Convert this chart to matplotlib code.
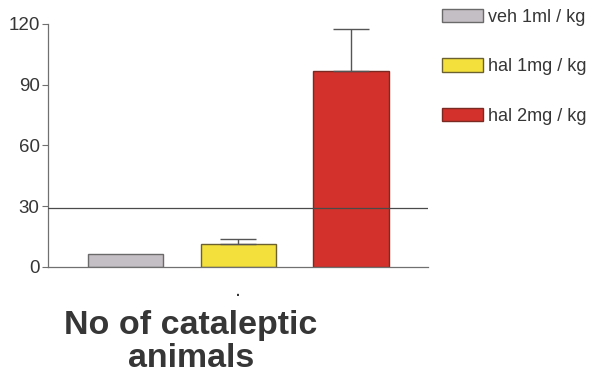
import matplotlib
matplotlib.use("Agg")
import matplotlib.pyplot as plt

plt.rcParams['font.family'] = ['Liberation Sans', 'DejaVu Sans']

groups = ["veh 1ml / kg", "hal 1mg / kg", "hal 2mg / kg"]
means = [6.5, 11.2, 97.0]
errors_up = [0.0, 2.8, 20.5]
reference_level = 29
y_ticks = [0, 30, 60, 90, 120]

fill_colors = ["#c4bfc4", "#f4e03c", "#d3312b"]
edge_colors = ["#6a6a6a", "#6a6030", "#7a2a22"]
text_color = "#363636"
axis_color = "#707070"

fig = plt.figure(figsize=(6.05, 3.78), dpi=100)
ax = fig.add_axes([0.0793, 0.2937, 0.628, 0.643])

xpos = list(range(len(groups)))
bars = ax.bar(xpos, means, width=0.67, color=fill_colors,
              edgecolor=edge_colors, linewidth=1.0, zorder=2)

# upward error bars only where an error is reported
err_idx = [i for i, e in enumerate(errors_up) if e > 0]
ax.errorbar([xpos[i] for i in err_idx], [means[i] for i in err_idx],
            yerr=[[0] * len(err_idx), [errors_up[i] for i in err_idx]],
            fmt="none", ecolor="#555555", elinewidth=1.0, capsize=13,
            capthick=1.0, zorder=3)

ax.axhline(reference_level, color="#4a4a4a", linewidth=0.9, zorder=4)

ax.set_xlim(-0.687, 2.68)
ax.set_ylim(0, 120)
ax.set_yticks(y_ticks)
ax.set_xticks([])
ax.tick_params(axis="y", direction="out", length=4, width=0.8,
               color=axis_color, labelcolor=text_color, labelsize=13.5, pad=2)
for side in ("top", "right"):
    ax.spines[side].set_visible(False)
for side in ("left", "bottom"):
    ax.spines[side].set_color(axis_color)
    ax.spines[side].set_linewidth(0.9)

ax.text(1, -12.4, ".", ha="center", va="center", fontsize=10,
        color=text_color, fontweight="bold")

fig.legend(handles=list(bars), labels=groups, loc="upper left",
           bbox_to_anchor=(0.703, 1.02), frameon=False,
           fontsize=13, labelspacing=1.8, handlelength=2.3,
           handleheight=0.75, handletextpad=0.25, labelcolor=text_color)

fig.text(0.316, 0.010, "No of cataleptic\nanimals", ha="center", va="bottom",
         fontsize=24.5, fontweight="bold", color=text_color, linespacing=1.08)

fig.savefig("out.png", dpi=100, facecolor="white")
